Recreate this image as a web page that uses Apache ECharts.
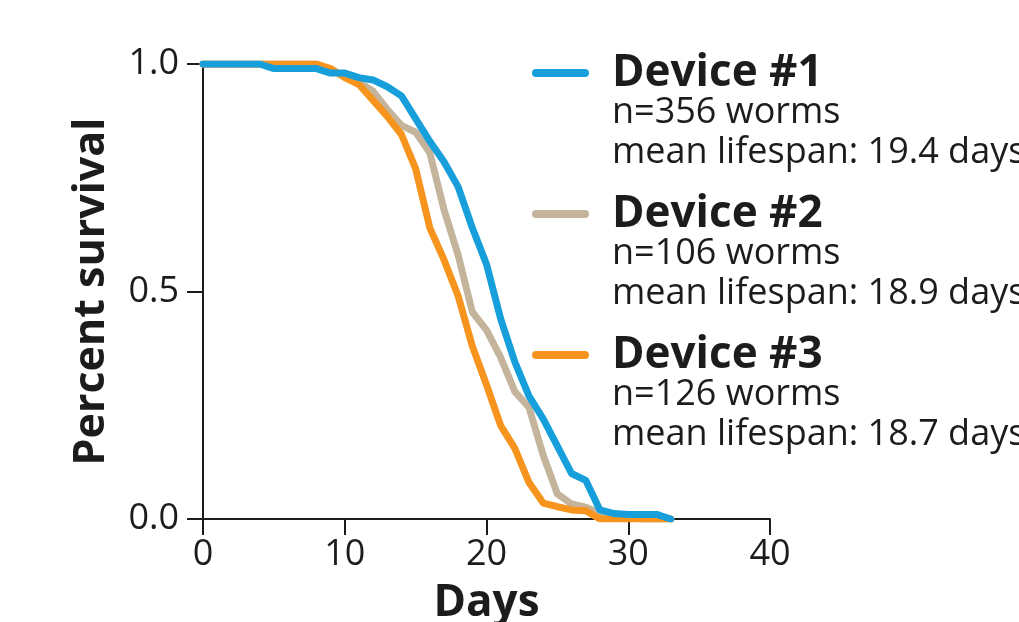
<!DOCTYPE html>
<html>
<head>
<meta charset="utf-8">
<script src="https://cdn.jsdelivr.net/npm/echarts@6/dist/echarts.min.js"></script>
<style>
  html, body { margin: 0; padding: 0; background: #ffffff; }
  #chart { width: 1019px; height: 622px; }
</style>
</head>
<body>
<div id="chart"></div>
<script>
// Survival curves: fraction of worms alive on each day, per device
const days = [0,1,2,3,4,5,6,7,8,9,10,11,12,13,14,15,16,17,18,19,20,21,22,23,24,25,26,27,28,29,30,31,32,33];
const device1 = [1,1,1,1,1,0.99,0.99,0.99,0.99,0.98,0.98,0.97,0.965,0.95,0.93,0.88,0.83,0.785,0.73,0.64,0.56,0.44,0.345,0.27,0.22,0.16,0.10,0.085,0.02,0.012,0.01,0.01,0.01,0];
const device2 = [1,1,1,1,1,1,1,1,1,0.985,0.975,0.96,0.94,0.9,0.865,0.85,0.805,0.68,0.58,0.455,0.415,0.355,0.28,0.245,0.14,0.055,0.033,0.026,0.013,0.01,0.005,0,0,0];
const device3 = [1,1,1,1,1,1,1,1,1,0.99,0.97,0.955,0.92,0.885,0.845,0.77,0.64,0.57,0.49,0.38,0.295,0.205,0.155,0.08,0.035,0.027,0.02,0.018,0,0,0,0,0,0];

const seriesNames = ['Device #1', 'Device #2', 'Device #3'];
const wormCounts = [356, 106, 126];
const meanLifespans = ['19.4', '18.9', '18.7'];
const colors = ['#179fdb', '#c4b49c', '#f7941e'];
const xTicks = [0, 10, 20, 30, 40];
const yTicks = [0, 0.5, 1.0];

const textColor = '#1c1c1c';
const fontFamily = '"Open Sans", "Noto Sans", sans-serif';

const chart = echarts.init(document.getElementById('chart'), null, { renderer: 'canvas' });

const valuesBySeries = [device1, device2, device3];
// tan first, then orange, blue on top
const drawOrder = [1, 2, 0];
const series = drawOrder.map(i => ({
  name: seriesNames[i],
  type: 'line',
  data: days.map((d, k) => [d, valuesBySeries[i][k]]),
  showSymbol: false,
  symbol: 'none',
  lineStyle: { color: colors[i], width: 7, cap: 'round', join: 'round' },
  itemStyle: { color: colors[i] },
  z: 3 + drawOrder.indexOf(i),
  animation: false
}));

// Legend block: a coloured line, the device name, and two lines of detail
const legendGraphics = [];
seriesNames.forEach((name, i) => {
  const top = 73 + i * 141;
  legendGraphics.push({
    type: 'line',
    shape: { x1: 536, y1: top, x2: 585, y2: top },
    style: { stroke: colors[i], lineWidth: 8, lineCap: 'round' }
  });
  legendGraphics.push({
    type: 'text',
    x: 612, y: top,
    style: {
      text: name, fill: textColor, font: 'bold 44px ' + fontFamily,
      textAlign: 'left', textVerticalAlign: 'middle'
    }
  });
  legendGraphics.push({
    type: 'text',
    x: 612, y: top + 40,
    style: {
      text: 'n=' + wormCounts[i] + ' worms', fill: textColor, font: '36px ' + fontFamily,
      textAlign: 'left', textVerticalAlign: 'middle'
    }
  });
  legendGraphics.push({
    type: 'text',
    x: 612, y: top + 80,
    style: {
      text: 'mean lifespan: ' + meanLifespans[i] + ' days', fill: textColor, font: '36px ' + fontFamily,
      textAlign: 'left', textVerticalAlign: 'middle'
    }
  });
});

chart.setOption({
  backgroundColor: '#ffffff',
  animation: false,
  grid: { left: 203, right: 249, top: 64, bottom: 103, containLabel: false, outerBoundsMode: 'none' },
  xAxis: {
    type: 'value',
    min: xTicks[0], max: xTicks[xTicks.length - 1], interval: 10,
    name: 'Days', nameLocation: 'middle', nameGap: 62,
    nameTextStyle: { color: textColor, fontSize: 44, fontWeight: 'bold', fontFamily },
    axisLine: { show: true, onZero: false, lineStyle: { color: '#1c1c1c', width: 2 } },
    axisTick: { show: true, length: 16, inside: false, lineStyle: { color: '#1c1c1c', width: 2 } },
    axisLabel: { color: textColor, fontSize: 36, fontFamily, margin: 18 },
    splitLine: { show: false }
  },
  yAxis: {
    type: 'value',
    min: yTicks[0], max: yTicks[yTicks.length - 1], interval: 0.5,
    name: 'Percent survival', nameLocation: 'middle', nameGap: 90,
    nameTextStyle: { color: textColor, fontSize: 43, fontWeight: 'bold', fontFamily },
    axisLine: { show: true, lineStyle: { color: '#1c1c1c', width: 2 } },
    axisTick: { show: true, length: 16, lineStyle: { color: '#1c1c1c', width: 2 } },
    axisLabel: { color: textColor, fontSize: 36, fontFamily, margin: 24, formatter: v => v.toFixed(1) },
    splitLine: { show: false }
  },
  series,
  graphic: legendGraphics
});
</script>
</body>
</html>
